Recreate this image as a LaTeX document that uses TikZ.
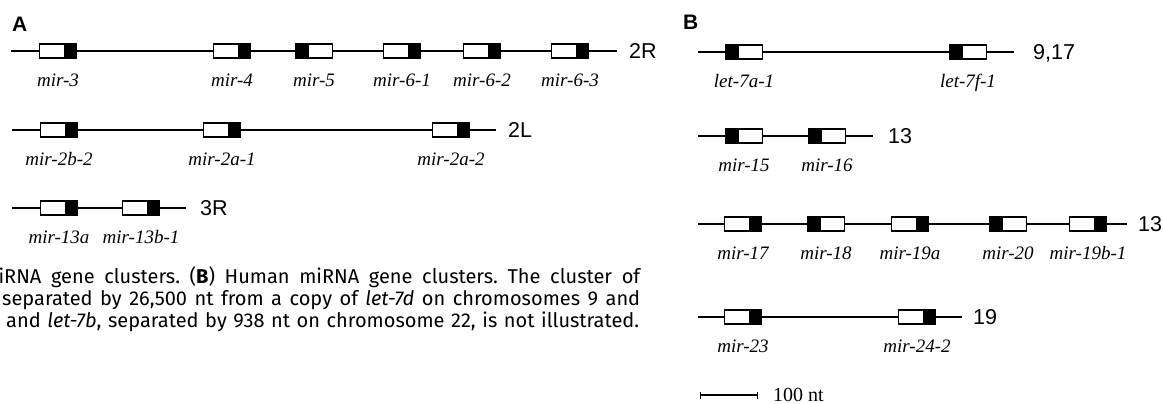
\documentclass[tikz,border=0pt]{standalone}
\usepackage{fontspec}
\setmainfont{Liberation Serif}
\setsansfont{Liberation Sans}
\newfontfamily\capfont{Fira Sans}
\usetikzlibrary{positioning}
\usetikzlibrary{arrows.meta}
\tikzset{chrom/.style={line width=1.1pt}}
\tikzset{gene/.style={draw,fill=white,line width=1.1pt,minimum width=37pt,minimum height=14pt,inner sep=0pt}}
\tikzset{fwd/.style={gene,path picture={\fill[black] ([xshift=-13pt]path picture bounding box.north east) rectangle (path picture bounding box.south east);}}}
\tikzset{rev/.style={gene,path picture={\fill[black] (path picture bounding box.north west) rectangle ([xshift=13pt]path picture bounding box.south west);}}}
\tikzset{lbl/.style={font=\fontsize{19}{19}\selectfont\itshape,inner sep=0pt,text height=12.8pt,text depth=4pt}}
\tikzset{chr/.style={font=\fontsize{21.5}{21.5}\selectfont\sffamily,inner sep=0pt,text depth=0pt}}
\tikzset{panel/.style={font=\fontsize{21}{21}\selectfont\sffamily\bfseries,inner sep=0pt,anchor=base west}}
\tikzset{capline/.style={font=\capfont\fontsize{20}{22}\selectfont\frenchspacing,inner sep=0pt,anchor=base west}}

\begin{document}
\begin{tikzpicture}[x=1pt,y=-1pt,node distance=15pt]
      \useasboundingbox (0,0) rectangle (1163,404);
      \pgfmathsetmacro{\rowa}{51}
      \pgfmathsetmacro{\rowb}{130}
      \pgfmathsetmacro{\rowc}{208}

      \node[panel] (pA) at (12,32) {A};

      \coordinate (a1s) at (11,\rowa);
      \coordinate (a1e) at (617,\rowa);
      \draw[chrom] (a1s) -- (a1e);
      \node[fwd] (a3) at (58,\rowa) {};
      \node[fwd] (a4) at (232,\rowa) {};
      \node[rev] (a5) at (314,\rowa) {};
      \node[fwd] (a61) at (402,\rowa) {};
      \node[fwd] (a62) at (482,\rowa) {};
      \node[fwd] (a63) at (570,\rowa) {};
      \node[lbl,below=of a3] (l3) {mir-3};
      \node[lbl,below=of a4] (l4) {mir-4};
      \node[lbl,below=of a5] (l5) {mir-5};
      \node[lbl,below=of a61] (l61) {mir-6-1};
      \node[lbl,below=of a62] (l62) {mir-6-2};
      \node[lbl,below=of a63] (l63) {mir-6-3};
      \node[chr,right=12pt of a1e] (c2R) {2R};

      \coordinate (a2s) at (12,\rowb);
      \coordinate (a2e) at (496,\rowb);
      \draw[chrom] (a2s) -- (a2e);
      \node[fwd] (a2b2) at (59,\rowb) {};
      \node[fwd] (a2a1) at (222,\rowb) {};
      \node[fwd] (a2a2) at (451,\rowb) {};
      \node[lbl,below=of a2b2] (l2b2) {mir-2b-2};
      \node[lbl,below=of a2a1] (l2a1) {mir-2a-1};
      \node[lbl,below=of a2a2] (l2a2) {mir-2a-2};
      \node[chr,right=12pt of a2e] (c2L) {2L};

      \coordinate (a3s) at (12,\rowc);
      \coordinate (a3e) at (186,\rowc);
      \draw[chrom] (a3s) -- (a3e);
      \node[fwd] (a13a) at (59,\rowc) {};
      \node[fwd] (a13b1) at (141,\rowc) {};
      \node[lbl,below=of a13a] (l13a) {mir-13a};
      \node[lbl,below=of a13b1] (l13b1) {mir-13b-1};
      \node[chr,right=14pt of a3e] (c3R) {3R};

      \node[capline] (cap1) at (4,283) {\llap{mi}\makebox[636pt][s]{RNA gene clusters. (\textbf{B}) Human miRNA gene clusters. The cluster of}};
      \node[capline] (cap2) at (2,305) {\makebox[638pt][s]{separated by 26,500 nt from a copy of \textit{let-7d} on chromosomes 9 and}};
      \node[capline] (cap3) at (6,327) {\makebox[633pt][s]{and \textit{let-7b}, separated by 938 nt on chromosome 22, is not illustrated.}};

      \node[panel] (pB) at (683,30) {B};

      \coordinate (b1s) at (698,52);
      \coordinate (b1e) at (1014,52);
      \draw[chrom] (b1s) -- (b1e);
      \node[rev] (b7a1) at (744,52) {};
      \node[rev] (b7f1) at (968,52) {};
      \node[lbl,below=of b7a1] (l7a1) {let-7a-1};
      \node[lbl,below=of b7f1] (l7f1) {let-7f-1};
      \node[chr,right=19pt of b1e] (c917) {9,17};

      \coordinate (b2s) at (698,136);
      \coordinate (b2e) at (873,136);
      \draw[chrom] (b2s) -- (b2e);
      \node[rev] (b15) at (744,136) {};
      \node[rev] (b16) at (827,136) {};
      \node[lbl,below=of b15] (l15) {mir-15};
      \node[lbl,below=of b16] (l16) {mir-16};
      \node[chr,right=15pt of b2e] (c13a) {13};

      \coordinate (b3s) at (698,224);
      \coordinate (b3e) at (1127,224);
      \draw[chrom] (b3s) -- (b3e);
      \node[fwd] (b17) at (743,224) {};
      \node[rev] (b18) at (826,224) {};
      \node[fwd] (b19a) at (910,224) {};
      \node[rev] (b20) at (1008,224) {};
      \node[fwd] (b19b1) at (1088,224) {};
      \node[lbl,below=of b17] (l17) {mir-17};
      \node[lbl,below=of b18] (l18) {mir-18};
      \node[lbl,below=of b19a] (l19a) {mir-19a};
      \node[lbl,below=of b20] (l20) {mir-20};
      \node[lbl,below=of b19b1] (l19b1) {mir-19b-1};
      \node[chr,right=11pt of b3e] (c13b) {13};

      \coordinate (b4s) at (698,317);
      \coordinate (b4e) at (962,317);
      \draw[chrom] (b4s) -- (b4e);
      \node[fwd] (b23) at (743,317) {};
      \node[fwd] (b242) at (917,317) {};
      \node[lbl,below=of b23] (l23) {mir-23};
      \node[lbl,below=of b242] (l242) {mir-24-2};
      \node[chr,right=11pt of b4e] (c19) {19};

      \coordinate (sbs) at (700,395);
      \coordinate (sbe) at (758,395);
      \draw[chrom,{Bar[width=7pt]}-{Bar[width=7pt]}] (sbs) -- (sbe);
      \node[right=15pt of sbe,inner sep=0pt,text depth=0pt,font=\fontsize{20}{20}\selectfont] (sbl) {100 nt};
\end{tikzpicture}
\end{document}
